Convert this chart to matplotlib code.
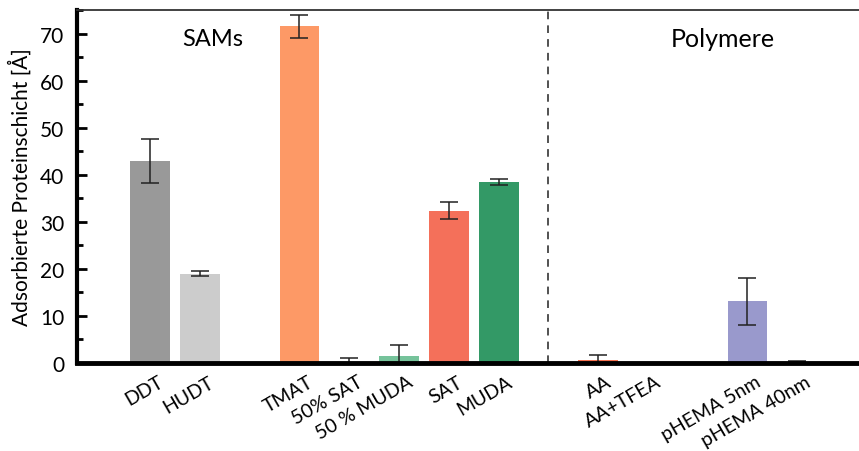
import numpy as np
import matplotlib
matplotlib.use("Agg")
import matplotlib.pyplot as plt
from matplotlib.ticker import MultipleLocator
import matplotlib.transforms as mtransforms

plt.rcParams['font.family'] = ['Lato', 'DejaVu Sans']

labels = ['DDT', 'HUDT', 'TMAT', '50% SAT', '50 % MUDA', 'SAT', 'MUDA',
          'AA', 'AA+TFEA', 'pHEMA 5nm', 'pHEMA 40nm']
positions = [1, 2, 4, 5, 6, 7, 8, 10, 11, 13, 14]
values = [42.9, 19.0, 71.5, 0.1, 1.4, 32.3, 38.5, 0.7, 0.0, 13.1, 0.3]
errors = [4.75, 0.5, 2.4, 1.0, 2.5, 1.8, 0.6, 1.1, 0.0, 5.0, 0.1]
colors = ['#999999', '#cccccc', '#fd9966', '#a0522d', '#76c39b', '#f4705a',
          '#339966', '#f4704f', '#ffffff', '#9999cc', '#555555']

fig = plt.figure(figsize=(8.59, 4.52), dpi=100)
ax = fig.add_axes([0.0896, 0.1947, 0.9104, 0.781])

ax.bar(positions, values, width=0.8, color=colors)
ax.errorbar(positions, values, yerr=errors, fmt='none', ecolor='#222222',
            elinewidth=1.1, capsize=6.8, capthick=1.1)

ax.axvline(9, color='#222222', linestyle=(0, (5, 4)), linewidth=1.1)

ax.set_xlim(-0.47, 15.24)
ax.set_ylim(0, 75)
ax.yaxis.set_major_locator(MultipleLocator(10))
ax.yaxis.set_minor_locator(MultipleLocator(5))
ax.tick_params(axis='y', which='major', direction='in', length=7, width=2,
               labelsize=15, pad=9)
ax.tick_params(axis='y', which='minor', direction='in', length=4, width=2)
ax.tick_params(axis='x', length=0, pad=7, labelsize=14)

ax.set_xticks(positions)
ax.set_xticklabels(labels, rotation=30, ha='right', va='top',
                   rotation_mode='anchor')
# push the slanted labels a bit to the right, like the original
shift = mtransforms.ScaledTranslation(0.08, 0, fig.dpi_scale_trans)
for lab in ax.get_xticklabels():
    lab.set_transform(lab.get_transform() + shift)

ax.set_ylabel('Adsorbierte Proteinschicht [Å]', fontsize=15, labelpad=6)

ax.spines['right'].set_visible(False)
ax.spines['left'].set_linewidth(3)
ax.spines['bottom'].set_linewidth(3.5)
ax.spines['top'].set_linewidth(1.3)
ax.spines['top'].set_color('#333333')

ax.text(2.25, 69, 'SAMs', fontsize=17, ha='center', va='center')
ax.text(12.5, 69, 'Polymere', fontsize=18, ha='center', va='center')

fig.savefig('out.png', dpi=100)
